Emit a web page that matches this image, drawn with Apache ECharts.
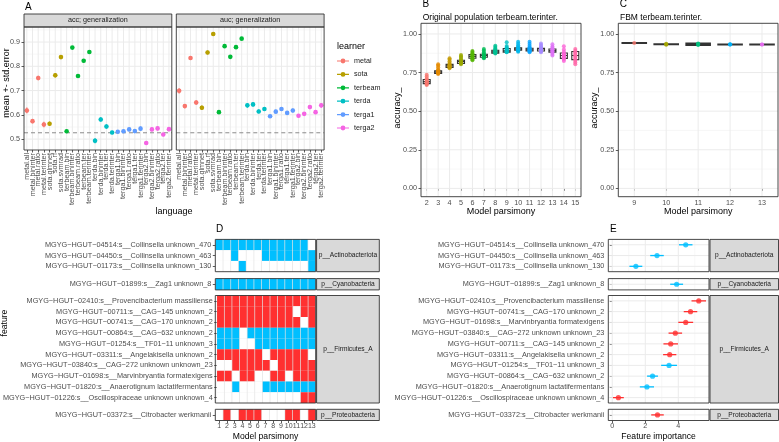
<!DOCTYPE html>
<html>
<head>
<meta charset="utf-8">
<script src="https://cdn.jsdelivr.net/npm/echarts@6.0.0/dist/echarts.min.js"></script>
<style>html,body{margin:0;padding:0;background:#fff;}#chart{width:779px;height:442px;}</style>
</head>
<body>
<div id="chart"></div>
<script>
// ================= DATA =================
// Panel A
const aCategories = ['metal.all','metal.bininter','metal.ratio','metal.terinter','sota.glmnet','sota.rf','sota.svmrad',
  'terbeam.bin','terbeam.bininter','terbeam.ratio','terbeam.ter','terbeam.terinter','terda.bin','terda.bininter','terda.ter','terda.terinter',
  'terga1.bin','terga1.bininter','terga1.ratio','terga1.ter','terga1.terinter','terga2.bin','terga2.bininter','terga2.ratio','terga2.ter','terga2.terinter'];
const aLearners = ['metal','sota','terbeam','terda','terga1','terga2'];
const accMean = [0.618,0.574,0.752,0.560,0.563,0.763,0.838,0.532,0.877,0.760,0.823,0.859,0.493,0.581,0.552,0.527,0.530,0.532,0.540,0.533,0.543,0.484,0.540,0.544,0.519,0.541];
const accSe   = [0.012,0.009,0.009,0.011,0.009,0.009,0.007,0.007,0.006,0.007,0.007,0.007,0.010,0.009,0.009,0.007,0.007,0.007,0.008,0.008,0.009,0.007,0.008,0.009,0.007,0.009];
const aucMean = [0.699,0.636,0.834,0.651,0.629,0.857,0.933,0.611,0.883,0.839,0.879,0.914,0.639,0.643,0.614,0.624,0.594,0.613,0.624,0.608,0.618,0.596,0.604,0.632,0.611,0.639];
const aucSe   = [0.011,0.009,0.008,0.009,0.009,0.008,0.006,0.007,0.007,0.008,0.007,0.006,0.009,0.009,0.008,0.008,0.007,0.008,0.008,0.007,0.008,0.007,0.008,0.009,0.008,0.010];
const aFacetTitles = ['acc; generalization','auc; generalization'];
const aBaseline = [0.526];
const aYMajor = [0.5,0.6,0.7,0.8,0.9];
const aYMinor = [0.55,0.65,0.75,0.85,0.95];

// Panel B
const bCategories = ['2','3','4','5','6','7','8','9','10','11','12','13','14','15'];
const bPoints = [
  [0.669,0.674,0.679,0.684,0.688,0.692,0.697,0.703,0.712,0.724,0.735],
  [0.741,0.745,0.748,0.751,0.754,0.758,0.763,0.772,0.785,0.795,0.804],
  [0.778,0.782,0.786,0.790,0.793,0.797,0.803,0.812,0.824,0.834,0.843],
  [0.804,0.808,0.812,0.817,0.821,0.825,0.831,0.838,0.847,0.856,0.864],
  [0.829,0.836,0.843,0.848,0.853,0.857,0.862,0.868,0.875,0.883,0.890],
  [0.842,0.846,0.851,0.855,0.859,0.862,0.866,0.872,0.882,0.893,0.903],
  [0.873,0.877,0.880,0.883,0.886,0.889,0.893,0.899,0.906,0.915,0.924],
  [0.881,0.883,0.886,0.889,0.892,0.896,0.901,0.906,0.914,0.922,0.946],
  [0.885,0.890,0.895,0.899,0.903,0.907,0.911,0.918,0.927,0.938,0.950],
  [0.881,0.887,0.891,0.895,0.898,0.902,0.907,0.914,0.923,0.936,0.950],
  [0.881,0.886,0.891,0.896,0.901,0.904,0.908,0.913,0.920,0.929,0.938],
  [0.860,0.870,0.879,0.884,0.889,0.893,0.897,0.903,0.910,0.918,0.934],
  [0.825,0.834,0.843,0.849,0.856,0.861,0.867,0.874,0.884,0.900,0.920],
  [0.804,0.815,0.826,0.836,0.846,0.855,0.863,0.872,0.881,0.892,0.903]
];
const bBoxes = [[0.678,0.691,0.705],[0.745,0.754,0.762],[0.783,0.793,0.803],[0.809,0.821,0.830],[0.843,0.855,0.867],
  [0.849,0.860,0.869],[0.876,0.885,0.894],[0.882,0.891,0.906],[0.894,0.903,0.911],[0.890,0.898,0.907],[0.890,0.903,0.907],
  [0.882,0.892,0.903],[0.842,0.860,0.877],[0.834,0.860,0.886]];
const bColors = ['#F8766D','#E38900','#C49A00','#99A800','#53B400','#00BC56','#00C094','#00BFC4','#00B6EB','#06A4FF','#A58AFF','#DF70F8','#FB61D7','#FF66A8'];

// Panel C
const cCategories = ['9','10','11','12','13'];
const cPoints = [[0.941],[0.930,0.933,0.936],[0.929,0.932,0.935,0.938],[0.931,0.932,0.933],[0.931,0.932]];
const cBoxes = [[0.940,0.941,0.942],[0.932,0.933,0.934],[0.927,0.934,0.940],[0.931,0.932,0.933],[0.931,0.932,0.933]];
const cColors = ['#F8766D','#A3A500','#00BF7D','#00B0F6','#E76BF3'];
const accYMajor = [0,0.25,0.5,0.75,1];
const accYMinor = [0.125,0.375,0.625,0.875];

// Panel D (1 = red, -1 = blue, 0 = absent)
const dColumns = ['1','2','3','4','5','6','7','8','9','10','11','12','13'];
const phyla = ['p__Actinobacteriota','p__Cyanobacteria','p__Firmicutes_A','p__Proteobacteria'];
const dActinoRows = ['MGYG−HGUT−04514:s__Collinsella unknown_470','MGYG−HGUT−04450:s__Collinsella unknown_463','MGYG−HGUT−01173:s__Collinsella unknown_130'];
const dActinoCells = [
  [-1,-1,-1,-1,-1,-1,-1,-1,-1,-1,-1,-1,0],
  [0,0,-1,0,0,0,-1,-1,-1,-1,-1,-1,-1],
  [0,0,0,-1,0,0,0,0,0,0,0,0,-1]];
const dCyanoRows = ['MGYG−HGUT−01899:s__Zag1 unknown_8'];
const dCyanoCells = [[-1,-1,-1,-1,-1,-1,-1,-1,-1,-1,-1,-1,-1]];
const dFirmRows = ['MGYG−HGUT−02410:s__Provencibacterium massiliense','MGYG−HGUT−00711:s__CAG−145 unknown_2','MGYG−HGUT−00741:s__CAG−170 unknown_2',
  'MGYG−HGUT−00864:s__CAG−632 unknown_2','MGYG−HGUT−01254:s__TF01−11 unknown_3','MGYG−HGUT−03311:s__Angelakisella unknown_2',
  'MGYG−HGUT−03840:s__CAG−272 unknown unknown_23','MGYG−HGUT−01698:s__Marvinbryantia formatexigens','MGYG−HGUT−01820:s__Anaerotignum lactatifermentans',
  'MGYG−HGUT−01226:s__Oscillospiraceae unknown unknown_4'];
const dFirmCells = [
  [1,1,1,1,1,1,1,1,1,1,1,1,1],
  [1,1,1,1,1,1,1,1,1,1,0,1,1],
  [1,1,1,1,1,1,1,1,1,1,1,0,1],
  [-1,-1,-1,0,-1,-1,-1,-1,-1,-1,-1,-1,-1],
  [-1,-1,-1,0,0,-1,-1,-1,-1,-1,-1,-1,-1],
  [1,1,1,1,1,1,0,1,1,1,1,1,0],
  [0,0,1,1,1,1,1,0,1,1,1,1,1],
  [1,1,0,1,1,0,0,1,1,0,1,1,1],
  [0,0,-1,0,0,0,-1,-1,-1,-1,-1,-1,-1],
  [0,0,0,0,0,0,0,0,0,0,0,1,1]];
const dProteoRows = ['MGYG−HGUT−03372:s__Citrobacter werkmanii'];
const dProteoCells = [[0,1,0,1,1,1,0,0,0,1,1,0,1]];

// Panel E
const eActinoRows = ['MGYG−HGUT−04514:s__Collinsella unknown_470','MGYG−HGUT−04450:s__Collinsella unknown_463','MGYG−HGUT−01173:s__Collinsella unknown_130'];
const eActinoImp = [4.45,2.71,1.43];
const eActinoErr = [0.41,0.41,0.39];
const eActinoSign = [-1,-1,-1];
const eCyanoRows = ['MGYG−HGUT−01899:s__Zag1 unknown_8'];
const eCyanoImp = [3.90];
const eCyanoErr = [0.39];
const eCyanoSign = [-1];
const eFirmRows = ['MGYG−HGUT−02410:s__Provencibacterium massiliense','MGYG−HGUT−00741:s__CAG−170 unknown_2','MGYG−HGUT−01698:s__Marvinbryantia formatexigens',
  'MGYG−HGUT−03840:s__CAG−272 unknown unknown_23','MGYG−HGUT−00711:s__CAG−145 unknown_2','MGYG−HGUT−03311:s__Angelakisella unknown_2',
  'MGYG−HGUT−01254:s__TF01−11 unknown_3','MGYG−HGUT−00864:s__CAG−632 unknown_2','MGYG−HGUT−01820:s__Anaerotignum lactatifermentans',
  'MGYG−HGUT−01226:s__Oscillospiraceae unknown unknown_4'];
const eFirmImp = [5.24,4.74,4.45,3.82,3.54,3.48,3.44,2.44,2.10,0.37];
const eFirmErr = [0.44,0.41,0.45,0.41,0.44,0.40,0.48,0.33,0.43,0.33];
const eFirmSign = [1,1,1,1,1,1,-1,-1,-1,1];
const eProteoRows = ['MGYG−HGUT−03372:s__Citrobacter werkmanii'];
const eProteoImp = [2.74];
const eProteoErr = [0.38];
const eProteoSign = [1];
const eXMajor = [0,2,4];
const eXMinor = [1,3,5];

// ================= STYLE / LAYOUT =================
const FONT = "'Liberation Sans', Arial, sans-serif";
const TXT = '#4D4D4D';
const BORDER = '#333333';
const GRID = '#EBEBEB';
const GRID_MINOR = '#F2F2F2';
const RED = '#FF3030';
const BLUE = '#00BFFF';
const aColors = ['#F8766D','#B79F00','#00BA38','#00BFC4','#619CFF','#F564E3'];
const LEG_ICON = 'path://M0,4.4L12,4.4L12,5.6L0,5.6Z M3.6,5A2.4,2.4,0,1,1,8.4,5A2.4,2.4,0,1,1,3.6,5Z';

const grids = [], xAxis = [], yAxis = [], series = [], graphic = [];
const axTxt = {fontSize: 7.2, color: TXT, fontFamily: FONT};
const tickStyle = {color: BORDER, width: 0.8};

function addPanel(l, t, w, h, bg) {
  const g = {left: l, top: t, width: w, height: h};
  if (bg) { g.show = true; g.backgroundColor = bg; g.borderWidth = 0; }
  grids.push(g);
  graphic.push({type: 'rect', silent: true, z: 100, shape: {x: l, y: t, width: w, height: h},
    style: {fill: 'none', stroke: BORDER, lineWidth: 0.9}});
  return grids.length - 1;
}
function txt(x, y, s, size, color, align, rot) {
  const el = {type: 'text', silent: true, z: 101, x: x, y: y,
    style: {text: s, fontSize: size, fontFamily: FONT, fill: color,
      textAlign: align || 'left', textVerticalAlign: 'middle', align: align || 'left', verticalAlign: 'middle'}};
  if (rot) el.rotation = rot;
  return el;
}
function addStrip(l, t, w, h, s, size) {
  graphic.push({type: 'rect', silent: true, z: 99, shape: {x: l, y: t, width: w, height: h},
    style: {fill: '#D9D9D9', stroke: BORDER, lineWidth: 0.9}});
  graphic.push(txt(l + w / 2, t + h / 2, s, size || 7.2, '#1A1A1A', 'center'));
}
function hLines(gi, vals, xAny, color, width, dash) {
  return {type: 'custom', xAxisIndex: gi, yAxisIndex: gi, silent: true, z: 1, encode: {x: 0, y: 1},
    data: vals.map(v => [xAny, v]),
    renderItem: function (p, api) {
      const cs = p.coordSys; const y = api.coord([api.value(0), api.value(1)])[1];
      return {type: 'line', shape: {x1: cs.x, y1: y, x2: cs.x + cs.width, y2: y},
        style: {stroke: color, lineWidth: width, lineDash: dash || null}};
    }};
}
function vLines(gi, vals, yAny, color, width) {
  return {type: 'custom', xAxisIndex: gi, yAxisIndex: gi, silent: true, z: 1, encode: {x: 0, y: 1},
    data: vals.map(v => [v, yAny]),
    renderItem: function (p, api) {
      const cs = p.coordSys; const x = api.coord([api.value(0), api.value(1)])[0];
      return {type: 'line', shape: {x1: x, y1: cs.y, x2: x, y2: cs.y + cs.height},
        style: {stroke: color, lineWidth: width}};
    }};
}
function vErr(gi, data, color) {
  return {type: 'custom', xAxisIndex: gi, yAxisIndex: gi, silent: true, z: 3, encode: {x: 0, y: [1, 2]}, data: data,
    renderItem: function (p, api) {
      const a = api.coord([api.value(0), api.value(1)]); const b = api.coord([api.value(0), api.value(2)]);
      return {type: 'line', shape: {x1: a[0], y1: a[1], x2: b[0], y2: b[1]}, style: {stroke: color, lineWidth: 1.3}};
    }};
}
function hErr(gi, data, colors) {
  return {type: 'custom', xAxisIndex: gi, yAxisIndex: gi, silent: true, z: 3, encode: {x: [0, 1], y: 2}, data: data,
    renderItem: function (p, api) {
      const a = api.coord([api.value(0), api.value(2)]); const b = api.coord([api.value(1), api.value(2)]);
      return {type: 'line', shape: {x1: a[0], y1: a[1], x2: b[0], y2: b[1]},
        style: {stroke: colors[p.dataIndex], lineWidth: 1.3}};
    }};
}
function tiles(gi, cells) {
  const data = [];
  cells.forEach((row, r) => row.forEach((v, c) => data.push([c, r, v])));
  return {type: 'custom', xAxisIndex: gi, yAxisIndex: gi, silent: true, z: 2, encode: {x: 0, y: 1}, data: data,
    renderItem: function (p, api) {
      const c = api.coord([api.value(0), api.value(1)]); const s = api.size([1, 1]); const v = api.value(2);
      return {type: 'rect', shape: {x: c[0] - s[0] / 2 + 0.35, y: c[1] - s[1] / 2, width: s[0] - 0.7, height: s[1]},
        style: {fill: v > 0 ? RED : (v < 0 ? BLUE : '#FFFFFF')}};
    }};
}
function fmtOnly(list, digits) {
  return function (v) { return list.some(t => Math.abs(t - v) < 1e-9) ? v.toFixed(digits) : ''; };
}

// ================= PANEL A =================
const aLeft = [24, 176.3], aW = 147.8, aTop = 27, aH = 123;
[[accMean, accSe], [aucMean, aucSe]].forEach(([mean, se], k) => {
  const gi = addPanel(aLeft[k], aTop, aW, aH);
  addStrip(aLeft[k], 14, aW, 13, aFacetTitles[k]);
  xAxis.push({gridIndex: gi, type: 'category', data: aCategories, boundaryGap: true, axisLine: {show: false},
    axisTick: {show: true, alignWithLabel: true, length: 2.5, lineStyle: tickStyle},
    axisLabel: Object.assign({rotate: 90, interval: 0, margin: 3, hideOverlap: false}, axTxt), splitLine: {show: false}});
  yAxis.push({gridIndex: gi, type: 'value', min: 0.455, max: 0.962, axisLine: {show: false}, splitLine: {show: false},
    axisTick: {show: k === 0, length: 2.5, customValues: aYMajor, lineStyle: tickStyle},
    axisLabel: Object.assign({show: k === 0, margin: 4, customValues: aYMajor, formatter: fmtOnly(aYMajor, 1), showMinLabel: true, showMaxLabel: true}, axTxt)});
  series.push(hLines(gi, aYMinor, 0, GRID_MINOR, 0.6));
  series.push(hLines(gi, aYMajor, 0, GRID, 1));
  series.push(vLines(gi, aCategories.map((_, i) => i), 0.7, GRID, 1));
  series.push(hLines(gi, aBaseline, 0, '#8C8C8C', 1, [4, 3]));
  aLearners.forEach((ln, j) => {
    const idx = aCategories.map((_, i) => i).filter(i => aCategories[i].split('.')[0] === ln);
    series.push(vErr(gi, idx.map(i => [i, mean[i] - se[i], mean[i] + se[i]]), aColors[j]));
    series.push({type: 'scatter', name: ln, xAxisIndex: gi, yAxisIndex: gi, silent: true, z: 4, symbolSize: 4.6,
      itemStyle: {color: aColors[j], opacity: 1}, data: idx.map(i => [i, mean[i]])});
  });
});
graphic.push(txt(25, 7.5, 'A', 10, '#000'));
graphic.push(txt(174, 211.5, 'language', 9, '#000', 'center'));
graphic.push(txt(6.3, 83, 'mean +- std.error', 9, '#000', 'center', Math.PI / 2));
graphic.push(txt(337, 46.7, 'learner', 9, '#000'));

// ================= PANEL B & C =================
function boxPanel(l, w, cats, boxes, pts, colors, boxW, bw, title, label) {
  const gi = addPanel(l, 23.3, w, 173.4);
  xAxis.push({gridIndex: gi, type: 'category', data: cats, boundaryGap: true, axisLine: {show: false},
    axisTick: {show: true, alignWithLabel: true, length: 2.5, lineStyle: tickStyle},
    axisLabel: Object.assign({interval: 0, margin: 2.5, hideOverlap: false}, axTxt), splitLine: {show: false}});
  yAxis.push({gridIndex: gi, type: 'value', min: -0.054, max: 1.069, axisLine: {show: false}, splitLine: {show: false},
    axisTick: {show: true, length: 2.5, customValues: accYMajor, lineStyle: tickStyle},
    axisLabel: Object.assign({margin: 4, customValues: accYMajor, formatter: fmtOnly(accYMajor, 2)}, axTxt)});
  series.push(hLines(gi, accYMinor, 0, GRID_MINOR, 0.6));
  series.push(hLines(gi, accYMajor, 0, GRID, 1));
  series.push(vLines(gi, cats.map((_, i) => i), 0.5, GRID, 1));
  series.push({type: 'boxplot', xAxisIndex: gi, yAxisIndex: gi, silent: true, z: 2, boxWidth: [boxW, boxW],
    itemStyle: {color: '#FFFFFF', borderColor: BORDER, borderWidth: bw},
    data: boxes.map(b => [b[0], b[0], b[1], b[2], b[2]])});
  const sd = [];
  pts.forEach((arr, i) => arr.forEach(v => sd.push({value: [i, v], itemStyle: {color: colors[i]}})));
  series.push({type: 'scatter', xAxisIndex: gi, yAxisIndex: gi, silent: true, z: 4, symbolSize: 4, data: sd});
  graphic.push(txt(l + 1.5, 4.5, label, 10, '#000'));
  graphic.push(txt(l + 1.7, 17.5, title, 8.5, '#000'));
  graphic.push(txt(l + w / 2, 211.7, 'Model parsimony', 9, '#000', 'center'));
  graphic.push(txt(l - 23.5, 108, 'accuracy_', 9, '#000', 'center', Math.PI / 2));
}
boxPanel(421, 160, bCategories, bBoxes, bPoints, bColors, 7, 1.1, 'Original population terbeam.terinter.', 'B');
boxPanel(618.3, 159.7, cCategories, cBoxes, cPoints, cColors, 24, 1.6, 'FBM terbeam.terinter.', 'C');

// ================= PANEL D & E =================
const facetTop = [239.4, 278.6, 295.5, 409.3];
const facetH = [32.3, 11.3, 107.5, 11.2];
const dRowsAll = [dActinoRows, dCyanoRows, dFirmRows, dProteoRows];
const dCellsAll = [dActinoCells, dCyanoCells, dFirmCells, dProteoCells];
const eRowsAll = [eActinoRows, eCyanoRows, eFirmRows, eProteoRows];
const eImpAll = [eActinoImp, eCyanoImp, eFirmImp, eProteoImp];
const eErrAll = [eActinoErr, eCyanoErr, eFirmErr, eProteoErr];
const eSignAll = [eActinoSign, eCyanoSign, eFirmSign, eProteoSign];
const featTxt = Object.assign({}, axTxt, {fontSize: 7.3});

phyla.forEach((ph, k) => {
  const last = k === phyla.length - 1;
  const top = facetTop[k], h = facetH[k];
  // D
  const gd = addPanel(215.3, top, 100.4, h, '#E3E3E3');
  addStrip(316.6, top, 62.7, h, ph, 6.6);
  xAxis.push({gridIndex: gd, type: 'category', data: dColumns, boundaryGap: true, axisLine: {show: false},
    axisTick: {show: last, alignWithLabel: true, length: 2.5, lineStyle: tickStyle},
    axisLabel: Object.assign({show: last, interval: 0, margin: 2.5, hideOverlap: false}, axTxt, {fontSize: 7}), splitLine: {show: false}});
  yAxis.push({gridIndex: gd, type: 'category', data: dRowsAll[k], inverse: true, boundaryGap: true, axisLine: {show: false},
    axisTick: {show: true, alignWithLabel: true, length: 2.5, lineStyle: tickStyle},
    axisLabel: Object.assign({interval: 0, margin: 4, hideOverlap: false}, featTxt), splitLine: {show: false}});
  series.push(tiles(gd, dCellsAll[k]));
  // E
  const ge = addPanel(608.3, top, 100.7, h);
  addStrip(710, top, 68.5, h, ph, 6.6);
  xAxis.push({gridIndex: ge, type: 'value', min: -0.24, max: 5.86, axisLine: {show: false}, splitLine: {show: false},
    axisTick: {show: last, length: 2.5, customValues: eXMajor, lineStyle: tickStyle},
    axisLabel: Object.assign({show: last, margin: 2.5, customValues: eXMajor, formatter: fmtOnly(eXMajor, 0)}, axTxt)});
  yAxis.push({gridIndex: ge, type: 'category', data: eRowsAll[k], inverse: true, boundaryGap: true, axisLine: {show: false},
    axisTick: {show: true, alignWithLabel: true, length: 2.5, lineStyle: tickStyle},
    axisLabel: Object.assign({interval: 0, margin: 4, hideOverlap: false}, featTxt), splitLine: {show: false}});
  series.push(vLines(ge, eXMinor, 0, GRID_MINOR, 0.6));
  series.push(vLines(ge, eXMajor, 0, GRID, 1));
  series.push(hLines(ge, eRowsAll[k].map((_, i) => i), 0, GRID, 1));
  const cols = eSignAll[k].map(s => s > 0 ? RED : BLUE);
  series.push(hErr(ge, eImpAll[k].map((v, i) => [v - eErrAll[k][i], v + eErrAll[k][i], i]), cols));
  series.push({type: 'scatter', xAxisIndex: ge, yAxisIndex: ge, silent: true, z: 4, symbolSize: 5.2,
    data: eImpAll[k].map((v, i) => ({value: [v, i], itemStyle: {color: cols[i]}}))});
});
graphic.push(txt(216, 229, 'D', 10, '#000'));
graphic.push(txt(610, 229, 'E', 10, '#000'));
graphic.push(txt(265.5, 437, 'Model parsimony', 8.6, '#000', 'center'));
graphic.push(txt(658.6, 437, 'Feature importance', 8.6, '#000', 'center'));
graphic.push(txt(5, 323, 'feature', 8.6, '#000', 'center', Math.PI / 2));

// ================= CHART =================
const chart = echarts.init(document.getElementById('chart'), null, {renderer: 'canvas', width: 779, height: 442});
chart.setOption({
  animation: false,
  backgroundColor: '#FFFFFF',
  textStyle: {fontFamily: FONT},
  grid: grids,
  xAxis: xAxis,
  yAxis: yAxis,
  legend: {orient: 'vertical', left: 337, top: 57.5, itemWidth: 12, itemHeight: 10, itemGap: 6.4, padding: 0, selectedMode: false,
    textStyle: {fontSize: 7.2, color: '#1A1A1A', fontFamily: FONT},
    data: aLearners.map(n => ({name: n, icon: LEG_ICON}))},
  tooltip: {show: false},
  series: series,
  graphic: graphic
});
</script>
</body>
</html>
